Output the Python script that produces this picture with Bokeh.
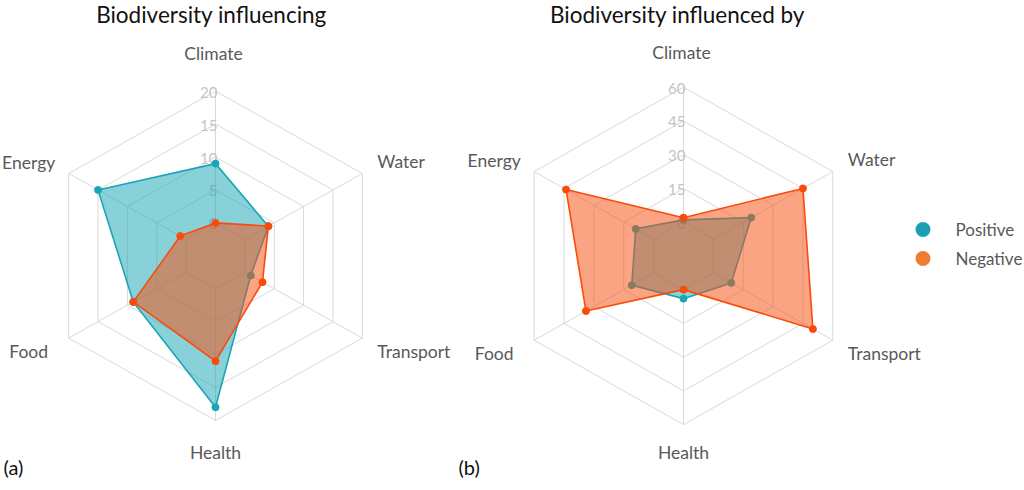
import math
from bokeh.plotting import figure
from bokeh.models import Range1d
from bokeh.core.properties import value
from bokeh.embed import file_html
from bokeh.resources import INLINE

# ---- data ----
categories = ["Climate", "Water", "Transport", "Health", "Food", "Energy"]
a_positive = [9, 4, 1, 18, 9, 15]
a_negative = [0, 4, 3, 11, 9, 1]
b_positive = [1, 19, 9, 4, 11, 9]
b_negative = [2, 45, 50, 0, 34, 44]
a_ticks = [0, 5, 10, 15, 20]
b_ticks = [0, 15, 30, 45, 60]
series_names = ["Positive", "Negative"]
titles = ["Biodiversity influencing", "Biodiversity influenced by"]
panel_labels = ["(a)", "(b)"]

# ---- styling ----
TEAL = "#1aa6b7"
ORANGE_LINE = "#fa4b0a"
ORANGE_FILL = "#f55014"
LEG_TEAL = "#1b9fb5"
LEG_ORANGE = "#ef7d31"
GRID = "#d9d9d9"
TICK = "#c4c4c4"
LABEL = "#595959"
FONT = value("Lato")

W, H = 1024, 490
p = figure(width=W, height=H, x_range=Range1d(0, W), y_range=Range1d(H, 0),
           output_backend="svg", toolbar_location=None, min_border=0,
           x_axis_type=None, y_axis_type=None)
p.grid.visible = False
p.outline_line_color = None
p.background_fill_color = "white"

panels = [
    dict(cx=215.0, cy=255.3, R=164.6, kx=1.03, ticks=a_ticks, vmin=-5,
         pos=a_positive, neg=a_negative, title=titles[0], tx=211, plab=panel_labels[0], px=3,
         top_off=-38, bot_off=32),
    dict(cx=683.0, cy=255.4, R=168.7, kx=1.022, ticks=b_ticks, vmin=-15,
         pos=b_positive, neg=b_negative, title=titles[1], tx=677, plab=panel_labels[1], px=458,
         top_off=-35, bot_off=28),
]

n = len(categories)


def to_xy(pn, v, i):
    vmax = pn["ticks"][-1]
    r = (v - pn["vmin"]) / (vmax - pn["vmin"]) * pn["R"]
    a = math.radians(360.0 / n * i)
    return pn["cx"] + pn["kx"] * r * math.sin(a), pn["cy"] - r * math.cos(a)


for pn in panels:
    # rings
    rxs, rys = [], []
    for t in pn["ticks"]:
        pts = [to_xy(pn, t, i) for i in range(n)] + [to_xy(pn, t, 0)]
        rxs.append([q[0] for q in pts])
        rys.append([q[1] for q in pts])
    # spokes
    for i in range(n):
        a0 = to_xy(pn, pn["ticks"][0], i)
        a1 = to_xy(pn, pn["ticks"][-1], i)
        rxs.append([a0[0], a1[0]])
        rys.append([a0[1], a1[1]])
    p.multi_line(rxs, rys, line_color=GRID, line_width=1)

    # tick labels
    tx = [to_xy(pn, t, 0)[0] + 2 for t in pn["ticks"]]
    ty = [to_xy(pn, t, 0)[1] + 1 for t in pn["ticks"]]
    p.text(tx, ty, text=[str(t) for t in pn["ticks"]], text_align="right",
           text_baseline="middle", text_color=TICK, text_font=FONT, text_font_size="15px")

    # category labels
    vmax = pn["ticks"][-1]
    for i, c in enumerate(categories):
        vx, vy = to_xy(pn, vmax, i)
        if i == 0:
            x, y, al = vx - 2, vy + pn["top_off"], "center"
        elif i == 3:
            x, y, al = vx, vy + pn["bot_off"], "center"
        elif i in (1, 2):
            x, y, al = vx + 15, vy + (-12 if i == 1 else 13), "left"
        else:
            x, y, al = vx - 40, vy + (13 if i == 4 else -11), "center"
        p.text([x], [y], text=[c], text_align=al, text_baseline="middle",
               text_color=LABEL, text_font=FONT, text_font_size="17.5px")

    # series polygons
    for vals, lc, fc in ((pn["pos"], TEAL, TEAL), (pn["neg"], ORANGE_LINE, ORANGE_FILL)):
        pts = [to_xy(pn, v, i) for i, v in enumerate(vals)]
        xs = [q[0] for q in pts]
        ys = [q[1] for q in pts]
        p.patch(xs, ys, fill_color=fc, fill_alpha=0.52, line_color=lc, line_width=1.6)
        p.scatter(xs, ys, size=7, fill_color=lc, line_color=lc)

    # title and panel label
    p.text([pn["tx"]], [14], text=[pn["title"]], text_align="center", text_baseline="middle",
           text_color="#111111", text_font=FONT, text_font_size="22.5px")
    p.text([pn["px"]], [466], text=[pn["plab"]], text_align="left", text_baseline="middle",
           text_color="#111111", text_font=FONT, text_font_size="20px")

# legend
p.scatter([922.5, 922.5], [229, 258], size=15, fill_color=[LEG_TEAL, LEG_ORANGE], line_color=None)
p.text([955, 955], [229, 258], text=series_names, text_align="left", text_baseline="middle",
       text_color=LABEL, text_font=FONT, text_font_size="17px")

open("out.html", "w").write(file_html(p, INLINE))
